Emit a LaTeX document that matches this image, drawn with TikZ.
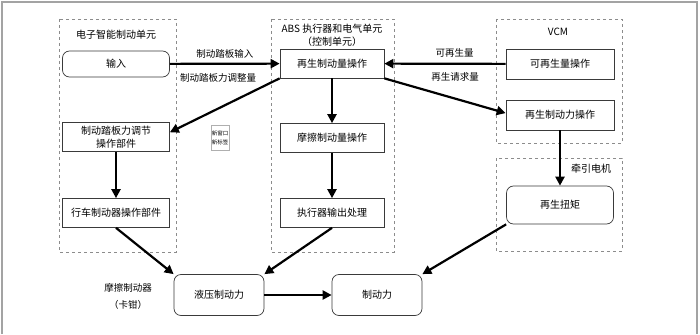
\documentclass[tikz,border=0pt]{standalone}
\usepackage{fontspec}
\setmainfont{Noto Sans CJK SC}
\usetikzlibrary{arrows.meta,positioning}
\definecolor{brkLine}{HTML}{3A3A3A}
\definecolor{brkDash}{HTML}{8C8C8C}
\definecolor{brkFrame}{HTML}{A3A3A3}

\begin{document}
\begin{tikzpicture}[
  x=1pt,y=-1pt,
  box/.style={draw=brkLine, line width=0.7pt, minimum width=104pt,
    minimum height=29pt, inner sep=1pt, align=center,
    font=\fontsize{10}{13}\selectfont},
  rbox/.style={box, rounded corners=7pt},
  grp/.style={draw=brkDash, dashed, line width=0.6pt},
  flow/.style={-{Triangle[length=9pt,width=9pt]}, line width=2.2pt},
  lbl/.style={font=\fontsize{9.5}{12}\selectfont, align=center},
  ttl/.style={font=\fontsize{10}{13}\selectfont, align=center}
]
\useasboundingbox (0,0) rectangle (700,334);
\draw[brkFrame, line width=1.5pt] (2,334) -- (2,2) -- (697,2) -- (697,334);

% dashed units
\draw[grp] (59,19) rectangle (176,252);
\draw[grp] (271,19) rectangle (394,252);
\draw[grp] (496,19) rectangle (622,143);
\draw[grp] (496,158) rectangle (622,251);

\node[ttl] (tEbu) at (116,35) {电子智能制动单元};
\node[ttl] (tAbs) at (332,29) {ABS 执行器和电气单元};
\node[ttl] (tCtl) at (332,42) {（控制单元）};
\node[ttl] (tVcm) at (558,32) {VCM};
\node[ttl] (tMot) at (591,169) {牵引电机};

% electronic brake unit
\node[rbox, minimum width=107pt, minimum height=26pt] (inp) at (116,64) {输入};
\node[box, minimum width=107pt] (pedalAdj) at (116,137) {制动踏板力调节\\操作部件};
\node[box, minimum width=107pt] (serviceBrk) at (116,213) {行车制动器操作部件};

% ABS unit
\node[box] (regenAmt) at (332,63.5) {再生制动量操作};
\node[box] (frictAmt) at (332,138) {摩擦制动量操作};
\node[box] (actOut) at (332,213) {执行器输出处理};

% VCM and motor
\node[box, minimum width=108pt, minimum height=30pt] (regenAvail) at (560,64) {可再生量操作};
\node[box, minimum width=108pt, minimum height=30pt] (regenForce) at (560,115) {再生制动力操作};
\node[rbox, minimum width=107pt, minimum height=38pt] (regenTrq) at (560,205) {再生扭矩};

% outputs
\node[rbox, minimum width=90pt, minimum height=41pt] (hydro) at (219,295) {液压制动力};
\node[rbox, minimum width=90pt, minimum height=41pt] (brkForce) at (377,295) {制动力};
\node[lbl, font=\fontsize{9.5}{17}\selectfont] (caliper) at (128,296) {摩擦制动器\\（卡钳）};

\node[draw=brkDash!70, line width=0.4pt, minimum width=17pt, minimum height=25pt,
  inner sep=0.5pt, align=center, font=\fontsize{5.5}{9}\selectfont] (newWin) at (220,138) {新窗口\\新标签};

% signal flows
\draw[flow] (inp) -- (regenAmt) node[lbl, midway, above=1pt] (lPedalIn) {制动踏板输入};
\draw[flow] (regenAmt.south west) -- (pedalAdj.5);
\node[lbl] (lPedalAdj) at (218,78) {制动踏板力调整量};
\draw[flow] (regenAvail) -- (regenAmt) node[lbl, pos=0.42, above=2pt] (lAvail) {可再生量};
\draw[flow] (regenAmt.south east) -- (regenForce.178);
\node[lbl] (lReq) at (455,77) {再生请求量};
\draw[flow] (regenAmt) -- (frictAmt);
\draw[flow] (frictAmt) -- (actOut);
\draw[flow] (pedalAdj) -- (serviceBrk);
\draw[flow] (regenForce) -- (regenTrq);
\draw[flow] (serviceBrk.south) -- (hydro.north west);
\draw[flow] (actOut.south) -- (hydro.north east);
\draw[flow] (hydro) -- (brkForce);
\draw[flow] (regenTrq.south west) -- (brkForce.north east);
\end{tikzpicture}
\end{document}
